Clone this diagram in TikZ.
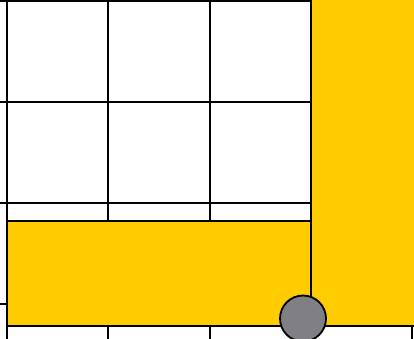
\documentclass[tikz,border=0pt]{standalone}
\definecolor{myyellow}{HTML}{FFCC00}
\definecolor{mygray}{HTML}{808084}
\tikzset{
  gridline/.style={line width=2pt, draw=black},
  block/.style={fill=myyellow, draw=black, line width=1.8pt},
  ball/.style={circle, fill=mygray, draw=black, line width=1.8pt, minimum size=46pt, inner sep=0pt}
}
\begin{document}
\begin{tikzpicture}[x=1pt,y=-1pt]
\useasboundingbox (0,0) rectangle (414,338);
\clip (0,0) rectangle (414,338);
\fill[white] (0,0) rectangle (414,338);
% grid
\foreach \x in {7.3,108.4,209.5,310.6,411.7} \draw[gridline] (\x,-10) -- (\x,350);
\foreach \y in {1,102.1,203.2,304.3} \draw[gridline] (-10,\y) -- (430,\y);
% yellow blocks
\draw[block] (7.3,221) rectangle (310.6,326);
\draw[block] (310.6,-10) rectangle (430,326);
% ball
\node[ball] (b) at (303,318.5) {};
\end{tikzpicture}
\end{document}
